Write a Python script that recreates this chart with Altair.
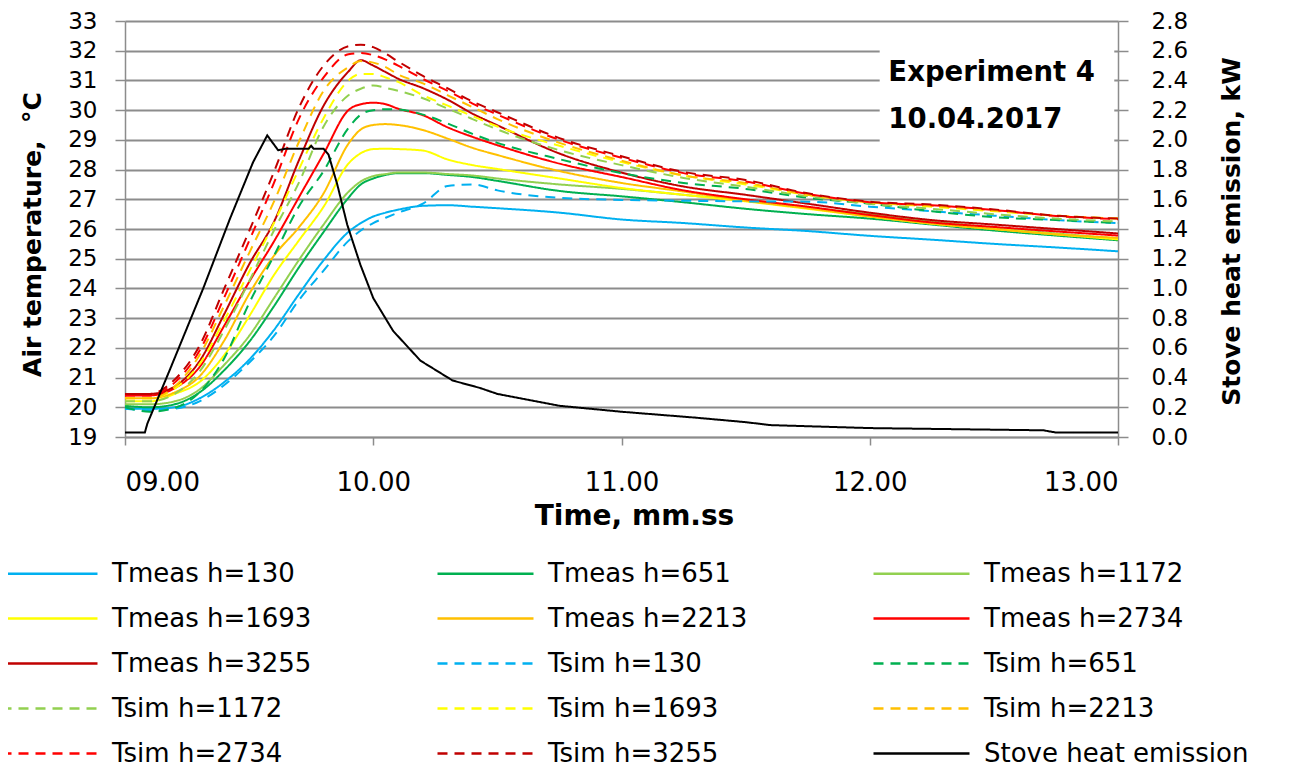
import altair as alt
import pandas as pd

# ---------------- data ----------------
time_min = [9.0, 9.1, 9.2, 9.3, 9.4, 9.5, 9.6, 9.7, 9.8, 9.9, 9.95, 10.0, 10.05, 10.1,
            10.2, 10.3, 10.4, 10.5, 10.75, 11.0, 11.25, 11.5, 11.75, 12.0, 12.25, 12.5,
            12.75, 13.0]

tmeas_130 = [19.95, 19.95, 20.0, 20.3, 20.85, 21.6, 22.6, 23.8, 24.95, 25.9, 26.2, 26.42, 26.55, 26.65,
             26.78, 26.8, 26.75, 26.7, 26.55, 26.32, 26.2, 26.05, 25.93, 25.77, 25.64, 25.5, 25.38, 25.25]
tmeas_651 = [20.05, 20.0, 20.1, 20.5, 21.25, 22.2, 23.4, 24.7, 25.9, 27.05, 27.5, 27.7, 27.82, 27.88,
             27.88, 27.82, 27.75, 27.62, 27.28, 27.1, 26.9, 26.68, 26.5, 26.35, 26.15, 25.95, 25.78, 25.62]
tmeas_1172 = [20.1, 20.1, 20.2, 20.6, 21.43, 22.4, 23.67, 24.95, 26.15, 27.25, 27.6, 27.78, 27.85, 27.9,
              27.9, 27.85, 27.8, 27.7, 27.5, 27.35, 27.15, 26.95, 26.72, 26.5, 26.25, 26.05, 25.85, 25.68]
tmeas_1693 = [20.2, 20.2, 20.45, 20.85, 21.76, 23.06, 24.45, 25.61, 26.75, 28.2, 28.55, 28.69, 28.7, 28.69,
              28.64, 28.34, 28.15, 28.02, 27.7, 27.38, 27.15, 26.93, 26.68, 26.42, 26.18, 26.0, 25.82, 25.65]
tmeas_2213 = [20.3, 20.3, 20.5, 21.04, 22.25, 23.81, 25.1, 26.05, 27.2, 28.87, 29.35, 29.5, 29.53, 29.5,
              29.33, 29.04, 28.73, 28.49, 27.95, 27.55, 27.26, 26.95, 26.7, 26.42, 26.18, 26.0, 25.82, 25.7]
tmeas_2734 = [20.4, 20.4, 20.64, 21.35, 22.75, 24.22, 25.58, 27.06, 28.53, 30.0, 30.2, 30.25, 30.2, 30.05,
              29.83, 29.42, 29.1, 28.82, 28.2, 27.75, 27.3, 27.0, 26.75, 26.47, 26.22, 26.07, 25.92, 25.78]
tmeas_3255 = [20.45, 20.45, 20.7, 21.55, 23.14, 24.81, 26.24, 28.3, 30.15, 31.3, 31.68, 31.5, 31.28, 31.06,
              30.74, 30.35, 29.88, 29.49, 28.54, 27.9, 27.43, 27.15, 26.85, 26.55, 26.3, 26.15, 26.0, 25.85]

tsim_130 = [19.95, 19.9, 19.95, 20.2, 20.75, 21.5, 22.4, 23.6, 24.6, 25.6, 25.95, 26.2, 26.38, 26.55,
            26.85, 27.45, 27.5, 27.3, 27.05, 26.98, 26.95, 26.93, 26.92, 26.75, 26.6, 26.45, 26.3, 26.2]
tsim_651 = [20.0, 19.85, 19.98, 20.5, 21.65, 23.5, 25.1, 26.75, 27.95, 29.4, 29.85, 30.0, 30.03, 30.02,
            29.85, 29.55, 29.2, 28.9, 28.35, 27.88, 27.55, 27.35, 27.05, 26.85, 26.6, 26.4, 26.3, 26.2]
tsim_1172 = [20.2, 20.2, 20.45, 21.2, 22.6, 24.24, 25.95, 27.55, 29.45, 30.5, 30.72, 30.83, 30.75, 30.65,
             30.4, 30.05, 29.7, 29.35, 28.65, 28.15, 27.72, 27.42, 27.1, 26.85, 26.68, 26.5, 26.35, 26.25]
tsim_1693 = [20.3, 20.3, 20.63, 21.45, 22.93, 24.56, 26.2, 28.0, 29.73, 31.0, 31.22, 31.22, 31.1, 30.95,
             30.5, 30.15, 29.8, 29.45, 28.8, 28.25, 27.8, 27.5, 27.15, 26.9, 26.75, 26.6, 26.45, 26.35]
tsim_2213 = [20.3, 20.3, 20.7, 21.75, 23.43, 25.19, 26.92, 28.92, 30.65, 31.45, 31.65, 31.6, 31.45, 31.2,
             30.9, 30.5, 30.1, 29.7, 28.9, 28.3, 27.8, 27.55, 27.15, 26.9, 26.78, 26.62, 26.45, 26.35]
tsim_2734 = [20.4, 20.4, 20.83, 21.9, 23.7, 25.6, 27.55, 29.7, 31.1, 31.88, 31.92, 31.85, 31.7, 31.5,
             31.05, 30.65, 30.22, 29.85, 29.0, 28.4, 27.88, 27.6, 27.18, 26.9, 26.8, 26.64, 26.44, 26.33]
tsim_3255 = [20.45, 20.45, 20.93, 22.07, 24.0, 25.93, 27.92, 30.07, 31.5, 32.15, 32.2, 32.12, 31.9, 31.64,
             31.15, 30.73, 30.29, 29.93, 29.06, 28.45, 27.92, 27.65, 27.2, 26.92, 26.82, 26.66, 26.45, 26.35]

stove_time = [9.0, 9.08, 9.09, 9.18, 9.315, 9.423, 9.516, 9.573, 9.617, 9.645, 9.74, 9.75, 9.76, 9.8,
              9.82, 9.855, 9.895, 9.948, 10.0, 10.08, 10.19, 10.32, 10.43, 10.5, 10.75, 11.0, 11.3,
              11.5, 11.6, 12.0, 12.7, 12.75, 13.0]
stove_kw = [0.03, 0.03, 0.09, 0.45, 1.0, 1.47, 1.85, 2.03, 1.93, 1.94, 1.94, 1.96, 1.94, 1.94,
            1.9, 1.7, 1.43, 1.16, 0.935, 0.714, 0.514, 0.38, 0.33, 0.29, 0.21, 0.17, 0.13,
            0.1, 0.08, 0.06, 0.045, 0.03, 0.03]

series_names = ["Tmeas h=130", "Tmeas h=651", "Tmeas h=1172", "Tmeas h=1693", "Tmeas h=2213",
                "Tmeas h=2734", "Tmeas h=3255", "Tsim h=130", "Tsim h=651", "Tsim h=1172",
                "Tsim h=1693", "Tsim h=2213", "Tsim h=2734", "Tsim h=3255", "Stove heat emission"]
series_colors = ["#00B0F0", "#00B050", "#92D050", "#FFFF00", "#FFC000", "#FF0000", "#C00000",
                 "#00B0F0", "#00B050", "#92D050", "#FFFF00", "#FFC000", "#FF0000", "#C00000",
                 "#000000"]
SOLID = [1, 0]
DASH = [10, 7]
series_dashes = [SOLID] * 7 + [DASH] * 7 + [SOLID]

temp_ticks = list(range(19, 34))
kw_ticks = [0.0, 0.2, 0.4, 0.6, 0.8, 1.0, 1.2, 1.4, 1.6, 1.8, 2.0, 2.2, 2.4, 2.6, 2.8]
time_ticks = [9, 10, 11, 12, 13]

annotation_lines = ["Experiment 4", "10.04.2017"]

temp_series = [tmeas_130, tmeas_651, tmeas_1172, tmeas_1693, tmeas_2213, tmeas_2734, tmeas_3255,
               tsim_130, tsim_651, tsim_1172, tsim_1693, tsim_2213, tsim_2734, tsim_3255]

rows = []
for name, vals in zip(series_names[:14], temp_series):
    for t, v in zip(time_min, vals):
        rows.append({"series": name, "time": t, "temp": v})
temp_df = pd.DataFrame(rows)
stove_df = pd.DataFrame({"series": series_names[14], "time": stove_time, "kw": stove_kw})

# ---------------- styling ----------------
FONT = "DejaVu Sans"
GRAY = "#8c8c8c"

x_scale = alt.Scale(domain=[9, 13], nice=False, zero=False)
y_scale = alt.Scale(domain=[19, 33], nice=False, zero=False)
kw_scale = alt.Scale(domain=[0, 2.8], nice=False, zero=False)
color_scale = alt.Scale(domain=series_names, range=series_colors)
dash_scale = alt.Scale(domain=series_names, range=series_dashes)

legend = alt.Legend(
    title=None, orient="none", legendX=-89, legendY=539, columns=3, direction="horizontal",
    symbolType="M-4,0H4", symbolSize=576, symbolStrokeWidth=2.5,
    labelFont=FONT, labelFontSize=26, labelColor="black", labelOffset=49,
    labelLimit=400, rowPadding=18, columnPadding=120, padding=0,
)

x_axis = alt.Axis(
    values=time_ticks, format="05.2f", grid=False, labelOverlap=False,
    labelFont=FONT, labelFontSize=26, labelColor="black", labelPadding=24,
    tickSize=8, tickColor=GRAY, tickWidth=1.5, domainColor=GRAY, domainWidth=1.5,
    title="Time, mm.ss", titleFont=FONT, titleFontSize=28, titleFontWeight="bold",
    titleColor="black", titleX=509, titleY=79, titleAlign="center", titleBaseline="middle",
)
y_axis = alt.Axis(
    values=temp_ticks, grid=True, gridColor=GRAY, gridWidth=1.8, labelOverlap=False,
    labelFont=FONT, labelFontSize=23, labelColor="black", labelPadding=18,
    tickSize=10, tickColor=GRAY, tickWidth=1.5, domainColor=GRAY, domainWidth=1.5,
    title="Air temperature,\u00a0 °C", titleFont=FONT, titleFontSize=25, titleFontWeight="bold",
    titleColor="black", titleAngle=270, titleX=-93, titleY=213, titleAlign="center",
    titleBaseline="middle",
)
kw_axis = alt.Axis(
    orient="right", values=kw_ticks, format=".1f", grid=False, labelOverlap=False,
    labelFont=FONT, labelFontSize=23, labelColor="black", labelPadding=23,
    tickSize=10, tickColor=GRAY, tickWidth=1.5, domainColor=GRAY, domainWidth=1.5,
    title="Stove heat emission, kW", titleFont=FONT, titleFontSize=25, titleFontWeight="bold",
    titleColor="black", titleAngle=270, titleX=113, titleY=210, titleAlign="center",
    titleBaseline="middle",
)

temp_lines = alt.Chart(temp_df).mark_line(strokeWidth=2, interpolate="monotone").encode(
    x=alt.X("time:Q", scale=x_scale, axis=x_axis),
    y=alt.Y("temp:Q", scale=y_scale, axis=y_axis),
    color=alt.Color("series:N", scale=color_scale, legend=legend),
    strokeDash=alt.StrokeDash("series:N", scale=dash_scale, legend=legend),
)

one_row = pd.DataFrame({"k": [0]})
box = alt.Chart(one_row).mark_rect(color="white").encode(
    x=alt.datum(12.04, scale=x_scale, axis=x_axis), x2=alt.datum(12.985),
    y=alt.datum(32.7, scale=y_scale, axis=y_axis), y2=alt.datum(28.6),
)
txt1 = alt.Chart(one_row).mark_text(
    font=FONT, fontSize=27.5, fontWeight="bold", color="black", align="left", baseline="middle"
).encode(
    x=alt.datum(12.075, scale=x_scale, axis=x_axis),
    y=alt.datum(31.26, scale=y_scale, axis=y_axis),
    text=alt.value(annotation_lines[0]),
)
txt2 = alt.Chart(one_row).mark_text(
    font=FONT, fontSize=27.5, fontWeight="bold", color="black", align="left", baseline="middle"
).encode(
    x=alt.datum(12.075, scale=x_scale, axis=x_axis),
    y=alt.datum(29.66, scale=y_scale, axis=y_axis),
    text=alt.value(annotation_lines[1]),
)

left = alt.layer(temp_lines, box, txt1, txt2)

stove = alt.Chart(stove_df).mark_line(strokeWidth=2).encode(
    x=alt.X("time:Q", scale=x_scale, axis=x_axis),
    y=alt.Y("kw:Q", scale=kw_scale, axis=kw_axis),
    color=alt.Color("series:N", scale=color_scale, legend=legend),
    strokeDash=alt.StrokeDash("series:N", scale=dash_scale, legend=legend),
)

chart = alt.layer(left, stove).resolve_scale(y="independent").properties(
    width=993, height=416,
    autosize=alt.AutoSizeParams(type="none"),
    padding={"left": 117, "top": 13, "right": 155, "bottom": 331},
).configure_view(stroke=None)

chart.save("out.html", embed_options={"renderer": "svg", "actions": False})
